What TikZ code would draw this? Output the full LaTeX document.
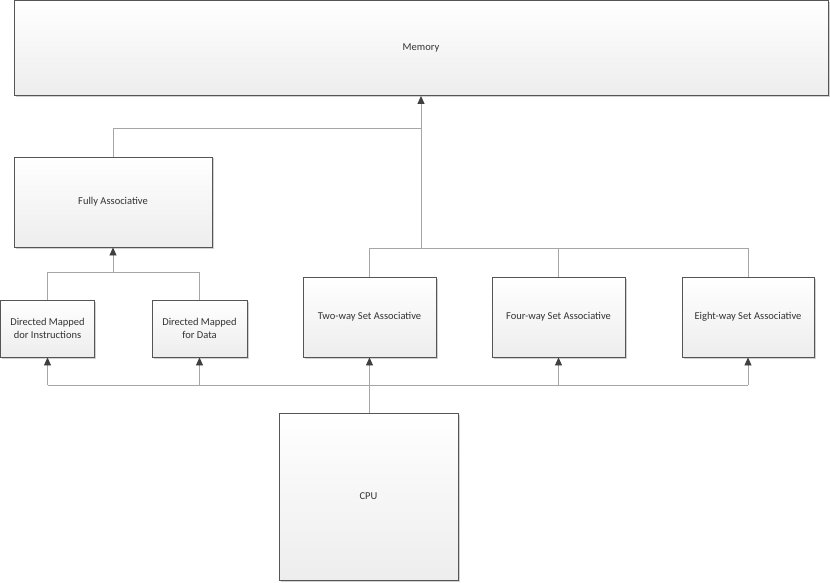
\documentclass[tikz,border=0pt]{standalone}
\usepackage{fontspec}
\setmainfont{Carlito}
\usetikzlibrary{shadows,arrows.meta,calc}
\definecolor{boxline}{HTML}{555555}
\definecolor{connline}{HTML}{A6A6A6}
\definecolor{tipcol}{HTML}{404040}
\definecolor{txt}{HTML}{333333}
\tikzset{
  blk/.style={draw=boxline, line width=0.9pt, rectangle, top color=white, bottom color=black!7,
    drop shadow={shadow xshift=1.5pt, shadow yshift=-1.5pt, opacity=0.18, fill=black},
    font=\fontsize{10.5}{13}\selectfont, text=txt, align=center, inner sep=0pt},
  conn/.style={draw=connline, line width=0.8pt},
  tipd/.style={-{Triangle[width=7pt,length=8pt,fill=tipcol,color=tipcol]}}
}
\begin{document}
\begin{tikzpicture}[x=1pt,y=-1pt]
\useasboundingbox (0,0) rectangle (830,583);
\node[blk, minimum width=814pt, minimum height=95pt] (mem) at (421,48) {Memory};
\node[blk, minimum width=198pt, minimum height=90pt] (fa) at (113,202) {Fully Associative};
\node[blk, minimum width=94pt, minimum height=57pt] (dmi) at (47.5,328.5) {Directed Mapped\\dor Instructions};
\node[blk, minimum width=95pt, minimum height=57pt] (dmd) at (199.5,328.5) {Directed Mapped\\for Data};
\node[blk, minimum width=133pt, minimum height=80pt] (two) at (369.5,317) {Two-way Set Associative};
\node[blk, minimum width=133pt, minimum height=80pt] (four) at (558.5,317) {Four-way Set Associative};
\node[blk, minimum width=132pt, minimum height=80pt] (eight) at (748,317) {Eight-way Set Associative};
\node[blk, minimum width=179pt, minimum height=167pt] (cpu) at (368.5,496.5) {CPU};

\coordinate (jm) at (421,128);
\coordinate (js) at (421,248);
\coordinate (jf) at (113,272);
\coordinate (jc) at (369.5,385);

% to memory
\draw[conn] (fa.north) |- (jm);
\draw[conn] (two.north) |- (eight.north |- js) -- (eight.north);
\draw[conn] (four.north) -- (four.north |- js);
\draw[conn,tipd] (js) -- (mem.south);
% to fully associative
\draw[conn] (dmi.north) |- (dmd.north |- jf) -- (dmd.north);
\draw[conn,tipd] (jf) -- (fa.south);
% from CPU
\draw[conn,tipd] (two.south |- cpu.north) -- (two.south);
\draw[conn] (dmi.south |- jc) -- (eight.south |- jc);
\draw[conn,tipd] (dmi.south |- jc) -- (dmi.south);
\draw[conn,tipd] (dmd.south |- jc) -- (dmd.south);
\draw[conn,tipd] (four.south |- jc) -- (four.south);
\draw[conn,tipd] (eight.south |- jc) -- (eight.south);
\end{tikzpicture}
\end{document}
